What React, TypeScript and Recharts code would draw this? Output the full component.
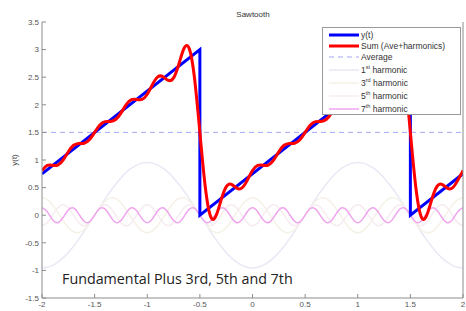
import { LineChart, Line, XAxis, YAxis, Legend } from "recharts";

// time axis, step 0.05
const tValues = [
  -2, -1.95, -1.9, -1.85, -1.8, -1.75, -1.7, -1.65, -1.6, -1.55,
  -1.5, -1.45, -1.4, -1.35, -1.3, -1.25, -1.2, -1.15, -1.1, -1.05,
  -1, -0.95, -0.9, -0.85, -0.8, -0.75, -0.7, -0.65, -0.6, -0.55,
  -0.5, -0.45, -0.4, -0.35, -0.3, -0.25, -0.2, -0.15, -0.1, -0.05,
  0, 0.05, 0.1, 0.15, 0.2, 0.25, 0.3, 0.35, 0.4, 0.45,
  0.5, 0.55, 0.6, 0.65, 0.7, 0.75, 0.8, 0.85, 0.9, 0.95,
  1, 1.05, 1.1, 1.15, 1.2, 1.25, 1.3, 1.35, 1.4, 1.45,
  1.5, 1.55, 1.6, 1.65, 1.7, 1.75, 1.8, 1.85, 1.9, 1.95,
  2,
];

const sumValues = [
  0.809, 0.903, 0.904, 0.908, 0.998, 1.15, 1.267, 1.301, 1.305, 1.366,
  1.5, 1.634, 1.695, 1.699, 1.733, 1.85, 2.002, 2.092, 2.096, 2.097,
  2.191, 2.369, 2.506, 2.509, 2.442, 2.487, 2.735, 3.024, 3.013, 2.467,
  1.5, 0.533, -0.013, -0.024, 0.265, 0.513, 0.558, 0.491, 0.494, 0.631,
  0.809, 0.903, 0.904, 0.908, 0.998, 1.15, 1.267, 1.301, 1.305, 1.366,
  1.5, 1.634, 1.695, 1.699, 1.733, 1.85, 2.002, 2.092, 2.096, 2.097,
  2.191, 2.369, 2.506, 2.509, 2.442, 2.487, 2.735, 3.024, 3.013, 2.467,
  1.5, 0.533, -0.013, -0.024, 0.265, 0.513, 0.558, 0.491, 0.494, 0.631,
  0.809,
];

const h1Values = [
  -0.955, -0.943, -0.908, -0.851, -0.773, -0.675, -0.561, -0.434, -0.295, -0.149,
  0, 0.149, 0.295, 0.434, 0.561, 0.675, 0.773, 0.851, 0.908, 0.943,
  0.955, 0.943, 0.908, 0.851, 0.773, 0.675, 0.561, 0.434, 0.295, 0.149,
  0, -0.149, -0.295, -0.434, -0.561, -0.675, -0.773, -0.851, -0.908, -0.943,
  -0.955, -0.943, -0.908, -0.851, -0.773, -0.675, -0.561, -0.434, -0.295, -0.149,
  0, 0.149, 0.295, 0.434, 0.561, 0.675, 0.773, 0.851, 0.908, 0.943,
  0.955, 0.943, 0.908, 0.851, 0.773, 0.675, 0.561, 0.434, 0.295, 0.149,
  0, -0.149, -0.295, -0.434, -0.561, -0.675, -0.773, -0.851, -0.908, -0.943,
  -0.955,
];

const h3Values = [
  0.318, 0.284, 0.187, 0.05, -0.098, -0.225, -0.303, -0.314, -0.258, -0.145,
  0, 0.145, 0.258, 0.314, 0.303, 0.225, 0.098, -0.05, -0.187, -0.284,
  -0.318, -0.284, -0.187, -0.05, 0.098, 0.225, 0.303, 0.314, 0.258, 0.145,
  0, -0.145, -0.258, -0.314, -0.303, -0.225, -0.098, 0.05, 0.187, 0.284,
  0.318, 0.284, 0.187, 0.05, -0.098, -0.225, -0.303, -0.314, -0.258, -0.145,
  0, 0.145, 0.258, 0.314, 0.303, 0.225, 0.098, -0.05, -0.187, -0.284,
  -0.318, -0.284, -0.187, -0.05, 0.098, 0.225, 0.303, 0.314, 0.258, 0.145,
  0, -0.145, -0.258, -0.314, -0.303, -0.225, -0.098, 0.05, 0.187, 0.284,
  0.318,
];

const h5Values = [
  -0.191, -0.135, 0, 0.135, 0.191, 0.135, 0, -0.135, -0.191, -0.135,
  0, 0.135, 0.191, 0.135, 0, -0.135, -0.191, -0.135, 0, 0.135,
  0.191, 0.135, 0, -0.135, -0.191, -0.135, 0, 0.135, 0.191, 0.135,
  0, -0.135, -0.191, -0.135, 0, 0.135, 0.191, 0.135, 0, -0.135,
  -0.191, -0.135, 0, 0.135, 0.191, 0.135, 0, -0.135, -0.191, -0.135,
  0, 0.135, 0.191, 0.135, 0, -0.135, -0.191, -0.135, 0, 0.135,
  0.191, 0.135, 0, -0.135, -0.191, -0.135, 0, 0.135, 0.191, 0.135,
  0, -0.135, -0.191, -0.135, 0, 0.135, 0.191, 0.135, 0, -0.135,
  -0.191,
];

const h7Values = [
  0.136, 0.062, -0.08, -0.135, -0.042, 0.096, 0.13, 0.021, -0.11, -0.122,
  0, 0.122, 0.11, -0.021, -0.13, -0.096, 0.042, 0.135, 0.08, -0.062,
  -0.136, -0.062, 0.08, 0.135, 0.042, -0.096, -0.13, -0.021, 0.11, 0.122,
  0, -0.122, -0.11, 0.021, 0.13, 0.096, -0.042, -0.135, -0.08, 0.062,
  0.136, 0.062, -0.08, -0.135, -0.042, 0.096, 0.13, 0.021, -0.11, -0.122,
  0, 0.122, 0.11, -0.021, -0.13, -0.096, 0.042, 0.135, 0.08, -0.062,
  -0.136, -0.062, 0.08, 0.135, 0.042, -0.096, -0.13, -0.021, 0.11, 0.122,
  0, -0.122, -0.11, 0.021, 0.13, 0.096, -0.042, -0.135, -0.08, 0.062,
  0.136,
];

// the sawtooth itself (jumps at -0.5 and 1.5)
const sawT = [-2, -0.5, -0.5, 1.5, 1.5, 2];
const sawY = [0.75, 3, 0, 3, 0, 0.75];

const aveT = [-2, 2];
const aveY = [1.5, 1.5];

const xTicks = [-2, -1.5, -1, -0.5, 0, 0.5, 1, 1.5, 2];
const yTicks = [-1.5, -1, -0.5, 0, 0.5, 1, 1.5, 2, 2.5, 3, 3.5];

const rows = tValues.map((t, i) => ({
  t,
  sum: sumValues[i],
  h1: h1Values[i],
  h3: h3Values[i],
  h5: h5Values[i],
  h7: h7Values[i],
}));
const sawRows = sawT.map((t, i) => ({ t, y: sawY[i] }));
const aveRows = aveT.map((t, i) => ({ t, ave: aveY[i] }));

const C1 = "#e9e9f5";
const C3 = "#f5f1e6";
const C5 = "#f6ebf1";
const C7 = "#f0a4ee";

const legendItems = [
  { num: "y(t)", sup: "", rest: "", color: "#0000ff", width: 3, dash: undefined, h: 11 },
  { num: "Sum (Ave+harmonics)", sup: "", rest: "", color: "#ff0000", width: 3, dash: undefined, h: 11 },
  { num: "Average", sup: "", rest: "", color: "#a8a8f6", width: 1, dash: "5 4", h: 12 },
  { num: "1", sup: "st", rest: " harmonic", color: C1, width: 1.5, dash: undefined, h: 13 },
  { num: "3", sup: "rd", rest: " harmonic", color: C3, width: 1.5, dash: undefined, h: 13 },
  { num: "5", sup: "th", rest: " harmonic", color: C5, width: 1.5, dash: undefined, h: 13 },
  { num: "7", sup: "th", rest: " harmonic", color: C7, width: 1.5, dash: undefined, h: 13 },
];

const font = "'Liberation Sans', Arial, sans-serif";

const renderLegend = () => (
  <div
    style={{
      width: 139,
      height: 88,
      border: "1px solid #9a9a9a",
      background: "#fff",
      boxSizing: "border-box",
      paddingTop: 1,
      fontFamily: font,
      fontSize: 8.5,
      color: "#333",
    }}
  >
    {legendItems.map((it) => (
      <div key={it.num + it.sup} style={{ display: "flex", alignItems: "center", height: it.h }}>
        <svg width={38} height={8} style={{ flex: "none" }}>
          <line x1={6} x2={36} y1={4} y2={4} stroke={it.color} strokeWidth={it.width} strokeDasharray={it.dash} />
        </svg>
        <span style={{ whiteSpace: "nowrap" }}>
          {it.num}
          {it.sup && <sup style={{ fontSize: 5.5, verticalAlign: "4px" }}>{it.sup}</sup>}
          {it.rest}
        </span>
      </div>
    ))}
  </div>
);

const tickStyle = { fontSize: 8, fill: "#555", fontFamily: font };

export default function App() {
  return (
    <div style={{ position: "absolute", left: 0, top: 0, width: 466, height: 311, background: "#fff" }}>
      <LineChart width={466} height={311} data={rows} margin={{ top: 22, right: 0, left: 0, bottom: 0 }}>
        <XAxis
          dataKey="t"
          type="number"
          domain={[-2, 2]}
          ticks={xTicks}
          allowDataOverflow
          height={13}
          tickSize={-4}
          tickMargin={7}
          stroke="#8c8c8c"
          tick={tickStyle}
          tickFormatter={(v: number) => String(v)}
        />
        <XAxis
          xAxisId="top"
          orientation="top"
          type="number"
          domain={[-2, 2]}
          ticks={xTicks}
          allowDataOverflow
          height={0}
          tickSize={-4}
          tick={false}
          stroke="#8c8c8c"
        />
        <YAxis
          type="number"
          domain={[-1.5, 3.5]}
          ticks={yTicks}
          allowDataOverflow
          width={42}
          tickSize={-4}
          tickMargin={7}
          stroke="#8c8c8c"
          tick={tickStyle}
          tickFormatter={(v: number) => String(v)}
        />
        <YAxis
          yAxisId="right"
          orientation="right"
          type="number"
          domain={[-1.5, 3.5]}
          ticks={yTicks}
          allowDataOverflow
          width={3}
          tickSize={-4}
          tick={false}
          stroke="#8c8c8c"
        />
        <Line dataKey="h1" type="natural" stroke={C1} strokeWidth={1.5} dot={false} isAnimationActive={false} />
        <Line dataKey="h3" type="natural" stroke={C3} strokeWidth={1.5} dot={false} isAnimationActive={false} />
        <Line dataKey="h5" type="natural" stroke={C5} strokeWidth={1.5} dot={false} isAnimationActive={false} />
        <Line dataKey="h7" type="natural" stroke={C7} strokeWidth={1.5} dot={false} isAnimationActive={false} />
        <Line
          data={aveRows}
          dataKey="ave"
          type="linear"
          stroke="#a8a8f6"
          strokeWidth={1}
          strokeDasharray="5 4"
          dot={false}
          isAnimationActive={false}
        />
        <Line data={sawRows} dataKey="y" type="linear" stroke="#0000ff" strokeWidth={3} dot={false} isAnimationActive={false} />
        <Line dataKey="sum" type="natural" stroke="#ff0000" strokeWidth={3} dot={false} isAnimationActive={false} />
        <Legend
          content={renderLegend}
          layout="horizontal"
          verticalAlign="middle"
          align="center"
          wrapperStyle={{ left: 322, top: 27, width: 139, height: 88 }}
        />
        <text x={253} y={17} textAnchor="middle" fontSize={8} fill="#333" fontFamily={font}>
          Sawtooth
        </text>
        <text
          x={17}
          y={160}
          transform="rotate(-90 17 160)"
          textAnchor="middle"
          fontSize={8}
          fill="#444"
          fontFamily={font}
        >
          y(t)
        </text>
        <text x={62} y={284} fontSize={14.3} fill="#222" fontFamily="'Open Sans', sans-serif">
          Fundamental Plus 3rd, 5th and 7th
        </text>
      </LineChart>
    </div>
  );
}
